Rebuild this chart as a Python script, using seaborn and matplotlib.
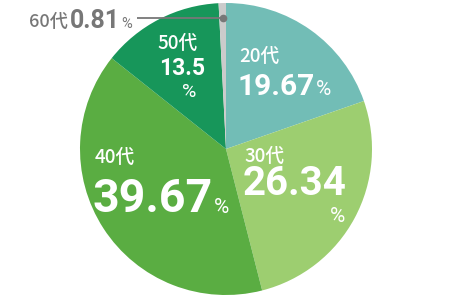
import matplotlib
matplotlib.use("Agg")
import matplotlib.pyplot as plt
import seaborn as sns

# Data
groups = ["20代", "30代", "40代", "50代", "60代"]
shares = [19.67, 26.34, 39.67, 13.5, 0.81]
share_labels = ["19.67", "26.34", "39.67", "13.5", "0.81"]
hex_colors = ["#72bdb6", "#9dce70", "#5aad42", "#17965a", "#cbcbcb"]

sns.set_style("white")
plt.rcParams["font.family"] = ["Roboto", "Noto Sans CJK JP", "DejaVu Sans"]

palette = sns.color_palette(hex_colors)

W, H = 454, 298
fig = plt.figure(figsize=(W / 100, H / 100), dpi=100)
ax = fig.add_axes([0, 0, 1, 1])


def Y(y):
    return H - y


cx, cy, r = 226, 149, 146
ax.pie(shares, colors=palette, startangle=90, counterclock=False,
       center=(cx, Y(cy)), radius=r, wedgeprops=dict(linewidth=0),
       frame=True)
ax.set_xlim(0, W)
ax.set_ylim(0, H)
ax.set_aspect("equal")
ax.axis("off")

fam_num = ["Roboto", "Noto Sans CJK JP", "DejaVu Sans"]
fam_lab = ["Noto Sans CJK JP", "DejaVu Sans"]
white = "white"
grey = "#777777"

fig.canvas.draw()
renderer = fig.canvas.get_renderer()


def txt(x, y, s, size, color=white, weight="bold", fam=fam_num):
    t = ax.text(x, Y(y), s, fontsize=size, color=color, fontweight=weight,
                ha="left", va="baseline", family=fam)
    return t


def right_edge(t):
    bb = t.get_window_extent(renderer=renderer)
    return bb.x1


# 20代
txt(239, 62, groups[0], 13.5, weight="medium", fam=fam_lab)
n = txt(238, 95, share_labels[0], 21.5)
txt(right_edge(n) + 1, 95, "%", 15, weight="normal")
# 30代
txt(244, 162, groups[1], 13.5, weight="medium", fam=fam_lab)
txt(243, 195, share_labels[1], 29)
txt(330, 222, "%", 15, weight="normal")
# 40代
txt(95, 163, groups[2], 13.5, weight="medium", fam=fam_lab)
n = txt(93, 212, share_labels[2], 33.5)
txt(right_edge(n) + 1, 213, "%", 15, weight="normal")
# 50代
txt(157, 49, groups[3], 13.5, weight="medium", fam=fam_lab)
txt(159, 75, share_labels[3], 16.5)
txt(182, 97, "%", 14, weight="normal")
# 60代
g = txt(29, 27, groups[4], 13, color=grey, weight="medium", fam=fam_lab)
n = txt(right_edge(g) + 2, 28, share_labels[4], 18, color=grey)
txt(right_edge(n) + 1, 28, "%", 10.5, color=grey, weight="normal")

ax.plot([137, 223], [Y(18), Y(18)], color=grey, lw=1.3, solid_capstyle="butt")
ax.plot([223], [Y(18)], marker="o", color=grey, ms=4.5)

fig.savefig("out.png", dpi=100)
